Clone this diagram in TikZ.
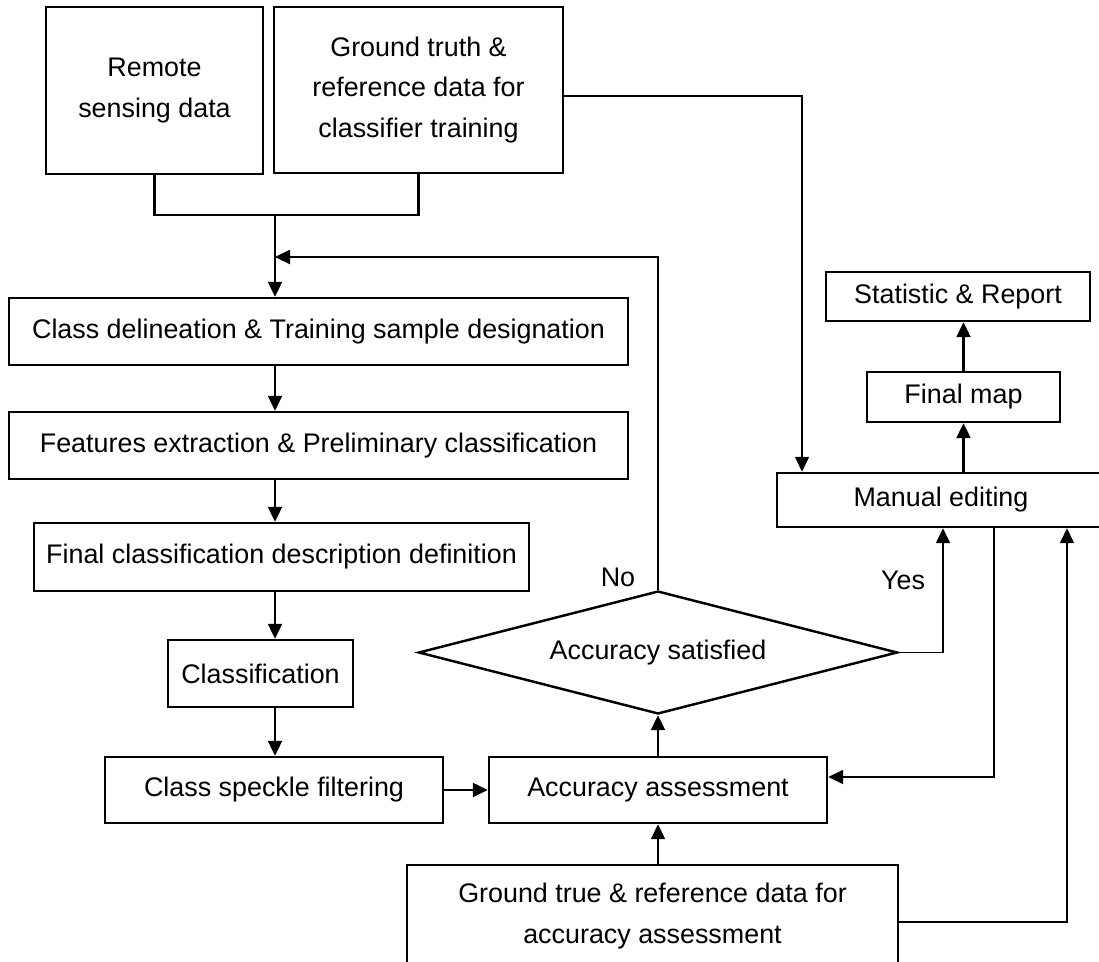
\documentclass[tikz,border=0pt]{standalone}
\usepackage{fontspec}
\setmainfont{Liberation Sans}
\usetikzlibrary{arrows.meta, shapes.geometric}

\begin{document}
\begin{tikzpicture}[x=0.02cm, y=-0.02cm,
        stage/.style={draw, line width=1.4pt, inner sep=0pt, align=center,
            font=\fontsize{15.3}{23}\selectfont},
        link/.style={line width=1.3pt, -{Triangle[length=0.3cm, width=0.28cm]}},
        thin link/.style={line width=0.9pt, -{Triangle[length=0.3cm, width=0.28cm]}},
        tag/.style={font=\fontsize{15.3}{18}\selectfont}]
        \useasboundingbox (0,0) rectangle (1099,962);
        \clip (0,0) rectangle (1099,962);

        % inputs
        \node[stage, minimum width=4.34cm, minimum height=3.34cm] (remote) at (154.5,90.5) {Remote\\sensing data};
        \node[stage, minimum width=5.78cm, minimum height=3.32cm] (gtrain) at (418.5,90) {Ground truth \&\\reference data for\\classifier training};

        % main chain
        \node[stage, minimum width=12.38cm, minimum height=1.34cm] (delin) at (318.5,331.5) {Class delineation \& Training sample designation};
        \node[stage, minimum width=12.38cm, minimum height=1.34cm] (feat) at (318.5,445.5) {Features extraction \& Preliminary classification};
        \node[stage, minimum width=9.9cm, minimum height=1.36cm] (finalcl) at (281.5,557) {Final classification description definition};
        \node[stage, minimum width=3.7cm, minimum height=1.34cm] (classif) at (260.5,673.5) {Classification};
        \node[stage, minimum width=6.76cm, minimum height=1.32cm] (speckle) at (274,790) {Class speckle filtering};
        \node[stage, minimum width=6.76cm, minimum height=1.32cm] (acc) at (658,790) {Accuracy assessment};
        \node[stage, diamond, aspect=3.9, minimum width=9.58cm, minimum height=2.46cm] (dec) at (658,652.5) {Accuracy satisfied};
        \node[stage, minimum width=9.82cm, minimum height=2.04cm] (gtacc) at (652.5,916) {Ground true \& reference data for\\accuracy assessment};

        % outputs
        \node[stage, minimum width=6.56cm, minimum height=1.08cm] (manual) at (941,500) {Manual editing};
        \node[stage, minimum width=3.86cm, minimum height=1.0cm] (finalmap) at (963.5,397) {Final map};
        \node[stage, minimum width=5.28cm, minimum height=0.98cm] (stat) at (958,296.5) {Statistic \& Report};

        \node[tag] (nolab) at (618,577) {No};
        \node[tag] (yeslab) at (903,580) {Yes};

        \coordinate (join) at (275,215);
        \coordinate (back) at (275,257);
        \coordinate (gtout) at (802,96);
        \coordinate (yes) at (943,653);
        \coordinate (ret) at (994,777);
        \coordinate (gtret) at (1067,922);

        \draw[line width=1.3pt] (remote.south) -- (remote.south |- join) -- (gtrain.south |- join) -- (gtrain.south);
        \draw[link] (join) -- (delin.north -| join);
        \draw[link] (dec.north) |- (back);
        \foreach \a/\b in {delin/feat, feat/finalcl, finalcl/classif, classif/speckle}
            \draw[link] (\a.south -| join) -- (\b.north -| join);
        \draw[link] (speckle) -- (acc);
        \draw[link] (acc) -- (dec);
        \draw[link] (acc.south |- gtacc.north) -- (acc.south);
        \draw[thin link] (dec.east) -| (manual.south -| yes);
        \draw[thin link] (gtout -| gtrain.east) -- (gtout) -- (manual.north -| gtout);
        \draw[link, line width=1.1pt] (manual.south -| ret) |- (acc.east |- ret);
        \draw[link, line width=1pt] (gtacc.east |- gtret) -| (manual.south -| gtret);
        \draw[link] (finalmap.south |- manual.north) -- (finalmap.south);
        \draw[link] (finalmap.north) -- (finalmap.north |- stat.south);
\end{tikzpicture}
\end{document}
